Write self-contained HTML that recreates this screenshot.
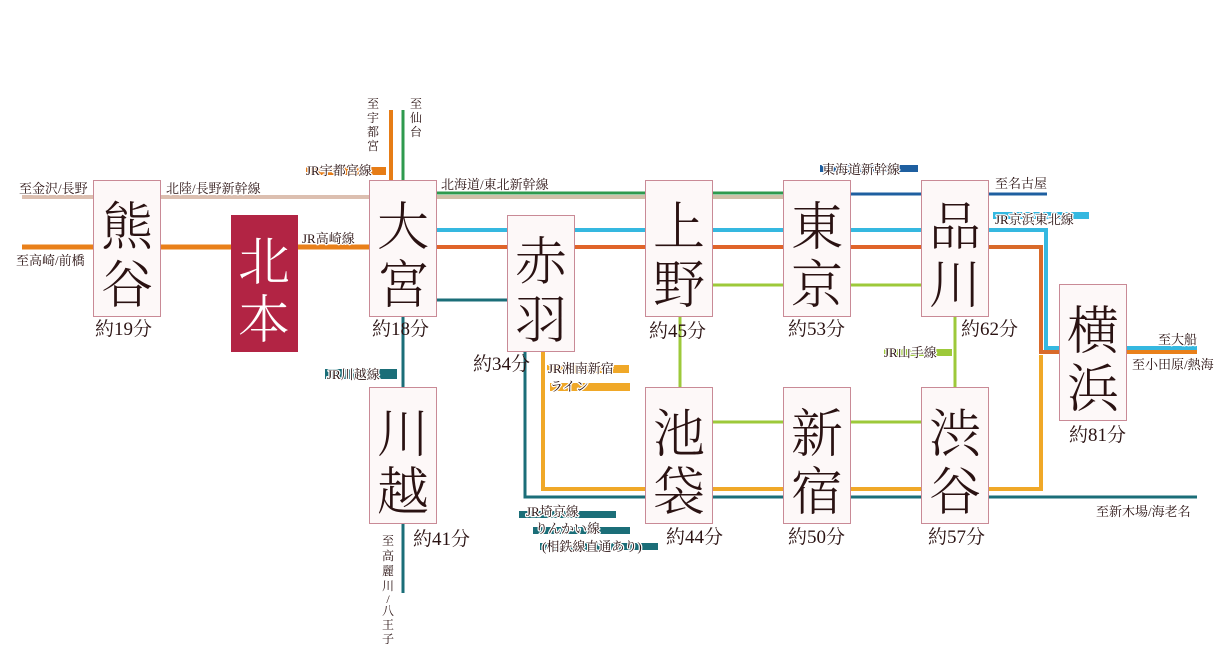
<!DOCTYPE html>
<html><head><meta charset="utf-8"><style>
html,body{margin:0;padding:0;background:#fff;}
svg{display:block;}
.s{font-family:"Liberation Serif","Noto Serif CJK SC",serif;fill:#2a1212;}
.m{font-size:19px;}
.l{font-size:13px;}
.h{stroke:#fff;stroke-width:2.5px;paint-order:stroke;stroke-linejoin:round;}
.st{font-size:52px;font-weight:300;}
</style></head><body>
<svg width="1218" height="649" viewBox="0 0 1218 649" xmlns="http://www.w3.org/2000/svg">
<g fill="none" stroke-linecap="butt">
<line x1="22" y1="197" x2="369" y2="197" stroke="#dcbfb0" stroke-width="4"/>
<line x1="437" y1="197" x2="783" y2="197" stroke="#cfc0a8" stroke-width="4"/>
<line x1="437" y1="193" x2="783" y2="193" stroke="#2e9a4e" stroke-width="3"/>
<line x1="403" y1="110" x2="403" y2="180" stroke="#2e9a4e" stroke-width="3"/>
<line x1="391" y1="110" x2="391" y2="180" stroke="#e67c16" stroke-width="4"/>
<line x1="851" y1="194" x2="1047" y2="194" stroke="#1e5fa0" stroke-width="3"/>
<line x1="22" y1="247" x2="369" y2="247" stroke="#e9801a" stroke-width="5"/>
<line x1="437" y1="247" x2="921" y2="247" stroke="#e0642a" stroke-width="4"/>
<polyline points="989,247 1041,247 1041,352 1059,352" stroke="#d96a2a" stroke-width="4"/>
<line x1="1127" y1="352" x2="1197" y2="352" stroke="#e9801a" stroke-width="4"/>
<line x1="437" y1="230" x2="921" y2="230" stroke="#35b8e0" stroke-width="4"/>
<polyline points="989,230 1046,230 1046,348 1059,348" stroke="#35b8e0" stroke-width="4"/>
<line x1="1127" y1="348" x2="1197" y2="348" stroke="#35b8e0" stroke-width="4"/>
<line x1="713" y1="285" x2="921" y2="285" stroke="#9dc93a" stroke-width="3"/>
<line x1="680" y1="317" x2="680" y2="387" stroke="#9dc93a" stroke-width="3"/>
<line x1="955" y1="317" x2="955" y2="387" stroke="#9dc93a" stroke-width="3"/>
<line x1="713" y1="422" x2="921" y2="422" stroke="#9dc93a" stroke-width="3"/>
<polyline points="543,352 543,489 645,489" stroke="#f0a828" stroke-width="4"/>
<line x1="713" y1="489" x2="921" y2="489" stroke="#f0a828" stroke-width="4"/>
<polyline points="989,489 1041,489 1041,355" stroke="#f0a828" stroke-width="4"/>
<line x1="437" y1="300" x2="507" y2="300" stroke="#1b6e78" stroke-width="3"/>
<polyline points="525,352 525,497 645,497" stroke="#1b6e78" stroke-width="3"/>
<line x1="713" y1="497" x2="921" y2="497" stroke="#1b6e78" stroke-width="3"/>
<line x1="989" y1="497" x2="1197" y2="497" stroke="#1b6e78" stroke-width="3"/>
<line x1="403" y1="317" x2="403" y2="387" stroke="#1b6e78" stroke-width="3"/>
<line x1="403" y1="524" x2="403" y2="593" stroke="#1b6e78" stroke-width="3"/>
</g>
<rect x="306" y="167" width="80" height="8" fill="#e67c16"/>
<rect x="325" y="369" width="72" height="10" fill="#1b6e78"/>
<rect x="547" y="365" width="82" height="8" fill="#f0a828"/>
<rect x="550" y="383" width="80" height="8" fill="#f0a828"/>
<rect x="519" y="511" width="97" height="7" fill="#1b6e78"/>
<rect x="533" y="527" width="97" height="7" fill="#1b6e78"/>
<rect x="540" y="543" width="118" height="7" fill="#1b6e78"/>
<rect x="884" y="349" width="68" height="7" fill="#9dc93a"/>
<rect x="993" y="212" width="96" height="7" fill="#35b8e0"/>
<rect x="820" y="165" width="98" height="7" fill="#1e5fa0"/>
<g fill="#fdf8f8" stroke="#c98a96" stroke-width="1">
<rect x="93.5" y="180.5" width="67" height="136"/>
<rect x="369.5" y="180.5" width="67" height="136"/>
<rect x="507.5" y="215.5" width="67" height="136"/>
<rect x="645.5" y="180.5" width="67" height="136"/>
<rect x="783.5" y="180.5" width="67" height="136"/>
<rect x="921.5" y="180.5" width="67" height="136"/>
<rect x="1059.5" y="284.5" width="67" height="136"/>
<rect x="369.5" y="387.5" width="67" height="136"/>
<rect x="645.5" y="387.5" width="67" height="136"/>
<rect x="783.5" y="387.5" width="67" height="136"/>
<rect x="921.5" y="387.5" width="67" height="136"/>
</g>
<rect x="231" y="215" width="67" height="137" fill="#b22444"/>
<g class="s st" text-anchor="middle">
<text x="127" y="245">熊</text><text x="127" y="303">谷</text>
<text x="264" y="280" style="fill:#fff">北</text><text x="264" y="338" style="fill:#fff">本</text>
<text x="403" y="245">大</text><text x="403" y="303">宮</text>
<text x="541" y="280">赤</text><text x="541" y="338">羽</text>
<text x="679" y="245">上</text><text x="679" y="303">野</text>
<text x="817" y="245">東</text><text x="817" y="303">京</text>
<text x="955" y="245">品</text><text x="955" y="303">川</text>
<text x="1093" y="349">横</text><text x="1093" y="407">浜</text>
<text x="403" y="452">川</text><text x="403" y="510">越</text>
<text x="679" y="452">池</text><text x="679" y="510">袋</text>
<text x="817" y="452">新</text><text x="817" y="510">宿</text>
<text x="955" y="452">渋</text><text x="955" y="510">谷</text>
</g>
<g class="s m">
<text x="95" y="335">約19分</text>
<text x="372" y="335">約18分</text>
<text x="473" y="370">約34分</text>
<text x="649" y="337">約45分</text>
<text x="788" y="335">約53分</text>
<text x="961" y="335">約62分</text>
<text x="1069" y="441">約81分</text>
<text x="413" y="545">約41分</text>
<text x="666" y="543">約44分</text>
<text x="788" y="543">約50分</text>
<text x="928" y="543">約57分</text>
</g>
<g class="s l h">
<text x="19" y="193">至金沢/長野</text>
<text x="166" y="193">北陸/長野新幹線</text>
<text x="16" y="265">至高崎/前橋</text>
<text x="302" y="243">JR高崎線</text>
<text x="306" y="175">JR宇都宮線</text>
<text x="441" y="189">北海道/東北新幹線</text>
<text x="822" y="174">東海道新幹線</text>
<text x="995" y="188">至名古屋</text>
<text x="995" y="224">JR京浜東北線</text>
<text x="1158" y="344">至大船</text>
<text x="1132" y="369">至小田原/熱海</text>
<text x="1096" y="516">至新木場/海老名</text>
<text x="884" y="357">JR山手線</text>
<text x="327" y="379">JR川越線</text>
<text x="548" y="373">JR湘南新宿</text>
<text x="550" y="391">ライン</text>
<text x="526" y="516">JR埼京線</text>
<text x="535" y="533">りんかい線</text>
<text x="542" y="551">(相鉄線直通あり)</text>
</g>
<g class="s" style="font-size:12px" text-anchor="middle">
<text x="373" y="108">至</text><text x="373" y="122">宇</text><text x="373" y="136">都</text><text x="373" y="150">宮</text>
<text x="416" y="108">至</text><text x="416" y="122">仙</text><text x="416" y="136">台</text>
<text x="388" y="545">至</text><text x="388" y="560">高</text><text x="388" y="575">麗</text><text x="388" y="590">川</text><text x="388" y="603">/</text><text x="388" y="615">八</text><text x="388" y="629">王</text><text x="388" y="643">子</text>
</g>
</svg>
</body></html>
